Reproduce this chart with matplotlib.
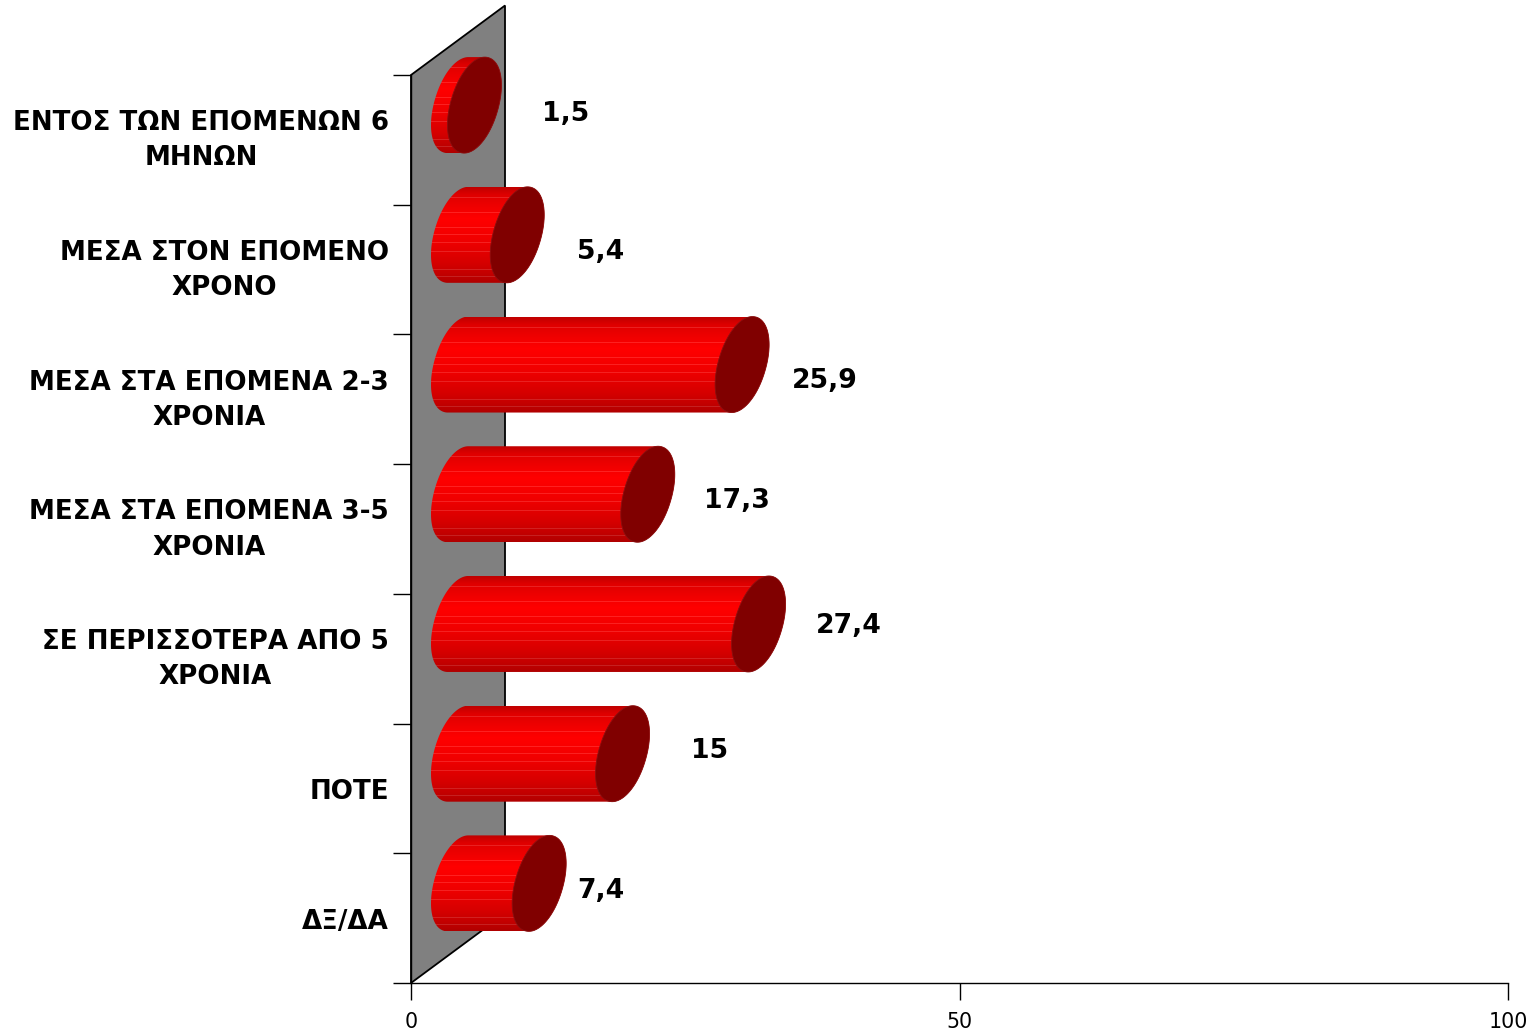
import numpy as np
import matplotlib
matplotlib.use("Agg")
import matplotlib.pyplot as plt
from matplotlib.collections import PolyCollection
from matplotlib.patches import Polygon
from matplotlib.path import Path

categories = ["ΕΝΤΟΣ ΤΩΝ ΕΠΟΜΕΝΩΝ 6\nΜΗΝΩΝ", "ΜΕΣΑ ΣΤΟΝ ΕΠΟΜΕΝΟ\nΧΡΟΝΟ",
              "ΜΕΣΑ ΣΤΑ ΕΠΟΜΕΝΑ 2-3\nΧΡΟΝΙΑ", "ΜΕΣΑ ΣΤΑ ΕΠΟΜΕΝΑ 3-5\nΧΡΟΝΙΑ",
              "ΣΕ ΠΕΡΙΣΣΟΤΕΡΑ ΑΠΟ 5\nΧΡΟΝΙΑ", "ΠΟΤΕ", "ΔΞ/ΔΑ"]
values = [1.5, 5.4, 25.9, 17.3, 27.4, 15, 7.4]
value_labels = ["1,5", "5,4", "25,9", "17,3", "27,4", "15", "7,4"]
x_ticks = [0, 50, 100]

# label offsets in pixels from the bar end / band centre
label_dx = [91, 83, 83, 89, 90, 87, 62]
label_dy = [26, 18, 18, 28, 33, 37, 27]

W, H = 1534, 1032
fig = plt.figure(figsize=(W / 100, H / 100), dpi=100, facecolor="white")
L, R, T, B = 411, 1508, 75, 983
ax = fig.add_axes([L / W, 1 - B / H, (R - L) / W, (B - T) / H])
ax.set_xlim(0, 100)
ax.set_ylim(len(categories), 0)

PX = 100 / (R - L)
PY = len(categories) / (B - T)

# wall
DEPTH_X, DEPTH_Y = 94 * PX, 69.5 * PY
n = len(categories)
wall = Polygon([(0, 0), (DEPTH_X, -DEPTH_Y), (DEPTH_X, n - DEPTH_Y), (0, n)],
               closed=True, facecolor="#808080", edgecolor="black", lw=1.3,
               clip_on=False, zorder=1)
ax.add_patch(wall)

# end-cap outline in pixels: a slightly squared ellipse in its principal axes
HW, HH, RHO, POW = 27.0, 48.0, 0.40, 0.97
vals, vecs = np.linalg.eigh([[HW**2, -RHO * HW * HH], [-RHO * HW * HH, HH**2]])
t = np.linspace(0, 2 * np.pi, 360, endpoint=False)
u = np.column_stack([np.sign(np.cos(t)) * np.abs(np.cos(t)) ** POW,
                     np.sign(np.sin(t)) * np.abs(np.sin(t)) ** POW])
CAP = (u * np.sqrt(vals)) @ vecs.T
CAP = CAP / np.abs(CAP).max(axis=0) * [HW, HH]
CAP = np.roll(CAP, -CAP[:, 1].argmin(), axis=0)      # start at the top point
j_bot = CAP[:, 1].argmax()
arc_a, arc_b = CAP[:j_bot + 1], np.vstack([CAP[j_bot:], CAP[:1]])
if arc_a[:, 0].mean() > arc_b[:, 0].mean():
    ARC_RIGHT, ARC_LEFT = arc_a, arc_b               # top->bottom, bottom->top
else:
    ARC_RIGHT, ARC_LEFT = arc_b[::-1], arc_a[::-1]


def place(arc, cx, cy):
    return np.column_stack([cx + arc[:, 0] * PX, cy + arc[:, 1] * PY])


def shade(f):
    stops_f = [0.0, 0.08, 0.33, 0.55, 0.8, 0.93, 1.0]
    stops_r = [190, 222, 255, 240, 212, 190, 175]
    return (np.interp(f, stops_f, stops_r) / 255, 0, 0, 1)


streaks = [0.11, 0.27, 0.42, 0.50, 0.58, 0.67, 0.86, 0.93]
N = 96
for i, v in enumerate(values):
    cy = i + 0.5 - DEPTH_Y / 2
    x0 = DEPTH_X / 2
    x1 = x0 + v
    hull = np.vstack([place(ARC_RIGHT, x1, cy), place(ARC_LEFT, x0, cy)])
    edges = np.linspace(cy - HH * PY, cy + HH * PY, N + 1)
    xa, xb = x0 - HW * 1.2 * PX, x1 + HW * 1.2 * PX
    rects, cols = [], []
    for k in range(N):
        f = (k + 0.5) / N
        rects.append([(xa, edges[k]), (xb, edges[k]), (xb, edges[k + 1]), (xa, edges[k + 1])])
        c = shade(f)
        if min(abs(f - s) for s in streaks) < 0.5 / N:
            c = (min(1, c[0] + 0.03), 0.13, 0.13, 1)
        cols.append(c)
    pc = PolyCollection(rects, facecolors=cols, edgecolors="none", antialiaseds=False,
                        zorder=3)
    ax.add_collection(pc, autolim=False)
    pc.set_clip_box(None)
    pc.set_clip_path(Path(np.vstack([hull, hull[:1]]), closed=True), ax.transData)
    cap = Polygon(place(CAP, x1, cy), closed=True,
                  facecolor="#800000", edgecolor="#8a1010", lw=0.6, zorder=4, clip_on=False)
    ax.add_patch(cap)
    ax.annotate(value_labels[i], xy=(x1, i + 0.5), xytext=(label_dx[i], label_dy[i]),
                textcoords="offset pixels", ha="center", va="center",
                fontsize=19.2, fontweight="bold", color="black", zorder=5,
                annotation_clip=False)

# axes
for s in ("top", "right"):
    ax.spines[s].set_visible(False)
for s in ("left", "bottom"):
    ax.spines[s].set_linewidth(1.0)
    ax.spines[s].set_zorder(2)

ax.set_xticks(x_ticks)
ax.set_xticklabels([str(t) for t in x_ticks], fontsize=14.8)
ax.tick_params(axis="x", length=12.5, width=1.0, pad=8.5)
ax.set_yticks(np.arange(n + 1))
ax.set_yticklabels([])
ax.set_yticks(np.arange(n) + 0.5 + 1 * PY, minor=True)
ax.set_yticklabels(categories, minor=True, fontsize=18.85, fontweight="bold",
                   multialignment="center", linespacing=1.46, va="center")
for lab in ax.get_yticklabels(minor=True):
    if "\n" not in lab.get_text():
        lab.set_va("center_baseline")
ax.tick_params(axis="y", which="major", length=13, width=1.0)
ax.tick_params(axis="y", which="minor", length=0, pad=15.8)

fig.savefig("out.png", dpi=100, facecolor="white")
